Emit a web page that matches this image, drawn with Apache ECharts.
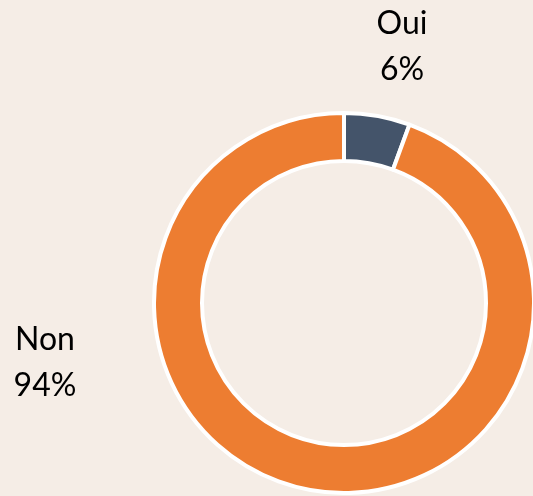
<!DOCTYPE html>
<html>
<head>
<meta charset="utf-8">
<script src="https://cdn.jsdelivr.net/npm/echarts@6/dist/echarts.min.js"></script>
<style>
  html, body { margin: 0; padding: 0; background: #f5ede6; }
  #chart { width: 533px; height: 496px; }
</style>
</head>
<body>
<div id="chart"></div>
<script>
const categories = ["Oui", "Non"];
const values = [5.6, 94.4];
const colors = ["#44546a", "#ed7d31"];

// label anchor points (pixels), one per category
const labelPos = [[402, 47], [45, 363]];

const chart = echarts.init(document.getElementById("chart"));
chart.setOption({
  backgroundColor: "#f5ede6",
  animation: false,
  series: [{
    type: "pie",
    center: [344, 303],
    radius: [142, 190],
    startAngle: 90,
    clockwise: true,
    data: categories.map((name, i) => ({
      name: name,
      value: values[i],
      itemStyle: { color: colors[i] },
    })),
    itemStyle: {
      borderColor: "#ffffff",
      borderWidth: 4,
    },
    label: {
      show: true,
      position: "outside",
      color: "#000000",
      fontFamily: "Lato",
      fontSize: 32,
      lineHeight: 46,
      formatter: (p) => p.name + "\n" + Math.round(p.percent) + "%",
    },
    labelLine: { show: false },
    labelLayout: (params) => ({
      x: labelPos[params.dataIndex][0],
      y: labelPos[params.dataIndex][1],
      align: "center",
      verticalAlign: "middle",
    }),
    emphasis: { disabled: true },
  }],
});
</script>
</body>
</html>
